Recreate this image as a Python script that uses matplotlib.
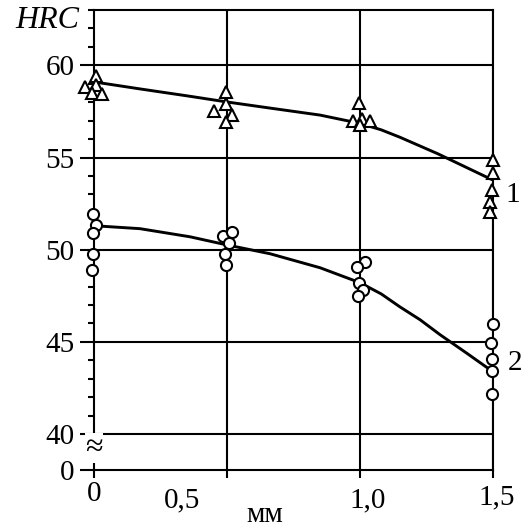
import numpy as np
import matplotlib.pyplot as plt
from matplotlib.transforms import blended_transform_factory

# Curve 1: triangoli (misure HRC)
tri_x = [-0.034, 0.006, 0.006, -0.009, 0.029,
         0.496, 0.496, 0.451, 0.519, 0.496,
         0.996, 0.974, 1.008, 1.038, 1.0,
         1.5, 1.5, 1.496, 1.489, 1.489]
tri_y = [58.83, 59.42, 58.91, 58.48, 58.42,
         58.53, 57.88, 57.5, 57.28, 56.9,
         57.93, 56.96, 57.07, 56.96, 56.75,
         54.89, 54.18, 53.26, 52.6, 52.07]

# Curve 2: cerchi
circ_x = [-0.004, 0.008, -0.004, -0.004, -0.008,
          0.485, 0.519, 0.508, 0.492, 0.496,
          1.019, 0.989, 0.996, 1.011, 0.992,
          1.5, 1.493, 1.496, 1.496, 1.496]
circ_y = [51.96, 51.36, 50.92, 49.78, 48.91,
          50.76, 50.98, 50.38, 49.78, 49.18,
          49.35, 49.08, 48.21, 47.83, 47.5,
          45.98, 44.95, 44.08, 43.42, 42.17]

# linee di tendenza
curve1_x = [0, 0.173, 0.361, 0.496, 0.662, 0.85, 1.0, 1.08, 1.15, 1.293, 1.496]
curve1_y = [59.1, 58.72, 58.32, 58.02, 57.68, 57.3, 56.85, 56.5, 56.1, 55.2, 53.8]
curve2_x = [0, 0.173, 0.361, 0.496, 0.662, 0.85, 1.0, 1.08, 1.15, 1.226, 1.30, 1.4, 1.496]
curve2_y = [51.3, 51.14, 50.7, 50.27, 49.78, 49.02, 48.21, 47.6, 46.9, 46.2, 45.4, 44.4, 43.42]

y_major = [40, 45, 50, 55, 60]
y_labels = ["40", "45", "50", "55", "60"]
x_ticks = [0, 0.5, 1.0, 1.5]
x_labels = ["0", "0,5", "1,0", "1,5"]
y_zero = 38.05   # dove si disegna lo "0" (asse spezzato)


def main():
    plt.rcParams['font.family'] = ['Liberation Serif', 'DejaVu Serif']

    fig = plt.figure(figsize=(5.21, 5.32), dpi=100)
    ax = fig.add_axes([0.1804, 0.1165, 0.7658, 0.8647])
    ax.set_xlim(0, 1.5)
    ax.set_ylim(y_zero, 63.0)

    lw = 1.5
    for s in ax.spines.values():
        s.set_linewidth(lw)

    # griglia principale
    for y in y_major:
        ax.axhline(y, color="black", lw=lw, zorder=1)
    for x in x_ticks[1:]:
        ax.axvline(x, color="black", lw=lw, zorder=1)

    # curve
    ax.plot(curve1_x, curve1_y, color="black", lw=2.1, zorder=3,
            solid_capstyle="round", solid_joinstyle="round", clip_on=False)
    ax.plot(curve2_x, curve2_y, color="black", lw=2.1, zorder=3,
            solid_capstyle="round", solid_joinstyle="round", clip_on=False)

    # punti
    ax.plot(tri_x, tri_y, linestyle="none", marker="^", ms=9, mew=1.5,
            mfc="white", mec="black", zorder=5, clip_on=False)
    ax.plot(circ_x, circ_y, linestyle="none", marker="o", ms=8, mew=1.5,
            mfc="white", mec="black", zorder=5, clip_on=False)

    # tick asse Y
    ax.set_yticks([y_zero] + y_major)
    ax.set_yticklabels(["0"] + y_labels, fontsize=21)
    ax.set_yticks(np.arange(40, 64), minor=True)
    ax.tick_params(axis="y", which="major", direction="out", length=10,
                   width=lw, pad=4)
    ax.tick_params(axis="y", which="minor", direction="out", length=4.5,
                   width=lw)

    # tick asse X (etichette messe a mano)
    ax.set_xticks(x_ticks)
    ax.set_xticklabels([])
    ax.tick_params(axis="x", which="major", direction="out", length=6,
                   width=lw)

    trans = blended_transform_factory(ax.transData, ax.transAxes)
    x_label_pos = [0.0, 0.331, 1.03, 1.515]
    x_label_y = [-0.052, -0.065, -0.065, -0.06]
    for lab, xp, yp in zip(x_labels, x_label_pos, x_label_y):
        ax.text(xp, yp, lab, transform=trans, ha="center", va="center",
                fontsize=21)
    ax.text(0.643, -0.098, "мм", transform=trans, ha="center", va="center",
            fontsize=21)

    # HRC
    ax.text(-0.177, 62.45, "HRC", ha="center", va="center", fontsize=23,
            style="italic", clip_on=False)

    # etichette delle curve
    ax.text(1.575, 52.99, "1", ha="center", va="center", fontsize=21,
            clip_on=False)
    ax.text(1.583, 43.86, "2", ha="center", va="center", fontsize=21,
            clip_on=False)

    # simbolo di interruzione asse
    ax.text(0.0, 39.24, "≈", ha="center", va="center", fontsize=23,
            zorder=6, clip_on=False,
            bbox=dict(boxstyle="square,pad=0.02", facecolor="white",
                      edgecolor="none"))

    fig.savefig("out.png", dpi=100, facecolor="white")


if __name__ == "__main__":
    main()
